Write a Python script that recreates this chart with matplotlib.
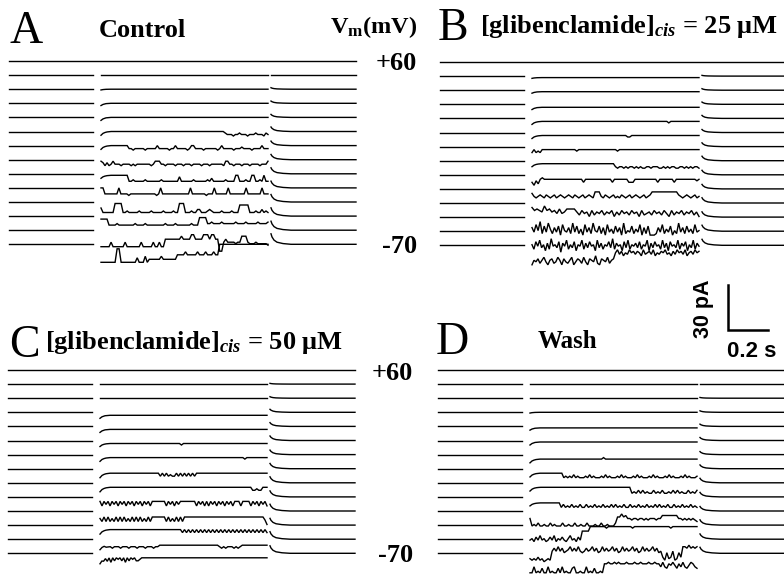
import numpy as np
import matplotlib
matplotlib.use("Agg")
import matplotlib.pyplot as plt

# sweeps: test potentials, top to bottom
voltages = [60, 50, 40, 30, 20, 10, 0, -10, -20, -30, -40, -50, -60, -70]
row_step = 9.4          # pA between stacked sweeps

# sweep timing (s): pre-pulse, test pulse, post-pulse (blanked gaps between)
seg_pre = (0.0, 0.42)
seg_pulse = (0.46, 1.295)
seg_post = (1.31, 1.735)

# capacitive transient shapes
onset_t = [0.0, 0.01, 0.025, 0.05]
onset_f = [1.0, 0.5, 0.15, 0.0]
tail_t = [0.0, 0.005, 0.015, 0.03, 0.06, 0.1]
tail_f = [1.0, 0.7, 0.4, 0.2, 0.07, 0.0]

# pulse current, one char per 10 ms, inward deflection in pA (base 36)
A_pulse = [
    "0", "0", "0", "0", "0",
    ("0000000000000000000000000000000000000000000000000000000000000"
     "1222322122232221222312"),
    ("00000000000000" "22322222322222" "0" "22222322" "0" "2222232" "00"
     "2222322222232" "0" "222223222" "1" "222232222" "0" "222"),
    ("12424313" "3343333434333333343" "111" "3343333433343334333343334333"
     "3334" "11" "3343334333433334333" "1"),
    ("11111111111111" "5545555545555555455555555" "2" "555555455555545" "3"
     "55555545555" "11" "555455" "11" "5545" "1" "55"),
    ("00" "4444444" "0" "44445444444444444454" "0" "44444444444444" "0"
     "44444445444" "0" "444444" "0" "44444444" "0" "4444444" "0" "444"),
    ("47" "77777" "1111" "7767777767777767777767777677" "111" "777677" "55"
     "777" "656" "7777677776777" "22222" "777677" "5767"),
    ("2222" "666656666666656666566666666656666566666665666" "1111"
     "5545555455555545555455555455554"),
    ("bbbbb8bbbbbb8bbbbbbb8bbbbb8bb8bb" "66666666466" "66336666" "3336336"
     "6ee86" "8888988" "4448" "999899999a"),
    ("cccccccc" "33" "cccccccc" "9" "ccc" "8" "c" "aaaaaa8aaaaaaa"
     "777757777757775777577" "0000000000000000000000000"),
]
A_onset = [0, 0, 0.5, 1.5, 2, 2.5, 2.5, 0, 2, 0, 0, 0, 0, 0]
A_tail = [0, 0, 1, 1.5, 2, 3, 3, 3.5, 4, 4.5, 5, 5.5, 6, 7]

B_pulse = [
    "0", "1", "1", "2",
    ("22222222222222222222222222222222222222222222222222222222222222222222"
     "3222222222222222"),
    ("22222222222222222222222222222222222222222222222" "33"
     "2222222222222222222222222222222222"),
    ("4243422" "22222222222222232222222222222222222322222222222222222222"
     "22222222222222222222"),
    ("2222222222222222222222222222222222222222"
     "45445454454545544544455454544554454545445"),
    ("574632" "3333333333333333333" "5" "3333333333333" "5" "3333333" "555"
     "33333333333" "5" "3333333" "5" "333333333343"),
    ("3565456456546545654564565465456" "222" "5645654656456546545654654"
     "2222222222222" "45654565465"),
    ("35456254657476" "4444"
     "68576958675867596857685769587685768579586758675869"),
    ("7a593b6a48b7a6c59a7b4a6b8c5a7b49a6b7c5a8b6a7c4b9a6b8a5c7b6" "cccb"
     "7a5b8a6c9b4a7b6a8b5a9"),
    ("9c7a6b9d8c5a9b7e8a6c9b7d9a6c8b7a9d6b8c9a7b5c8a9d7b6c9a8b7c9a6d8b7a9c"
     "6b8d7a9b6c8a7d9b6c8a"),
    ("dab9ca8bda9cb8ad9bca8db9ac8bd9ab7cd9ab8ca9"
     "5364756354645736546375645365746354637546354"),
]
B_onset = [0, 0.5, 1, 1.5, 2, 2, 0, 2, 0, 0, 0, 0, 0, 0]
B_tail = [0, 0.5, 1, 1.5, 2, 2, 2.5, 3, 3, 3, 3.5, 3.5, 4, 4]

C_pulse = [
    "0", "0", "0", "2", "2",
    ("2222222222222222222222222222222222222222" "3"
     "222222222222222222222222222222222222222222"),
    ("22222222222222222222222222222222222222222222222222222222222222222222"
     "2222" "3" "22222222222"),
    ("333333333333333333333333333333" "535354553535353535"
     "333333333333333333333333333333333333"),
    ("3333333333333333333333333333333333333333333333333333333333333333333"
     "33333333" "55455" "333"),
    ("363536353635363536353635363" "33333" "36353635" "3333333"
     "36353636353635363536" "333" "6" "333" "3635363536"),
    ("574747574747475747474757474" "44444" "4747574747"
     "4444444444444444444444444444444444444444" "69"),
    ("3333333333333333333333333333333333333333"
     "35353535353535353535353535353535353535353535"),
    ("44455565556555655565556555655" "44444444444444444444444444444"
     "56565556565" "4444444444444"),
    ("3" "343536353" "43536353435" "5" "4333333333333333333333333333333333"
     "3333333333333333333333333333333333333"),
]
C_onset = [0, 0, 0, 2, 2, 2, 2.5, 3, 3, 0, 0, 3, 3, 4]
C_tail = [0, 0.5, 1, 2, 2.5, 3, 3, 3.5, 4, 4, 4.5, 4.5, 5, 5]

D_pulse = [
    "0", "0", "0", "0", "1", "1",
    ("3333333333333333333333333333333333333" "2"
     "33333333333333333333333333333333333333333333333"),
    ("33333333333333333"
     "65656465666564656665646566656465666564656665646566656465666564656665"),
    ("33333333333333333333333333333333333333333333333"
     "7675757677576757767575767757675"),
    ("444444444444444"
     "757675767577576757675767575767577576757675767575767577576757675767"),
    ("5" "a9a8aa9aa8a9aaa8aa9aa8aa9aa8aaa9aa8aa9aaa8" "44243"
     "55655655656555655" "33333333" "5565656567"),
    ("a9b8a7a9ba8a7b9a8ab97a9b8a" "4444"
     "111111112111111111111211111111111111111121111111111111"),
    ("dedecedfede"
     "8685869875868589868758698586875869858687586985868758698"
     "ce9dc8ed9c" "55646565"),
    ("dd9dcdadd9dcddad9dcdda9ddcdd9dcdaddcd" "776776767776777677677767767"
     "7969a7868a7969a8679a"),
]
D_onset = [0, 0, 0, 0.5, 1.5, 2, 2.5, 2.5, 2.5, 2, 0, 0, 0, 0]
D_tail = [0, 0, 0.5, 1, 1.5, 2, 2, 2.5, 3, 3, 3, 3.5, 3.5, 4]

W, H = 784, 581
PX_S = 200.0    # page px per second
PX_PA = 1.5     # page px per pA

plt.rcParams['mathtext.fontset'] = 'custom'
plt.rcParams['mathtext.rm'] = 'Liberation Serif:bold'
plt.rcParams['mathtext.it'] = 'Liberation Serif:italic:bold'
plt.rcParams['mathtext.bf'] = 'Liberation Serif:bold'

fig = plt.figure(figsize=(W / 100, H / 100), dpi=100)
fig.patch.set_facecolor('white')


def panel_axes(x0, y0):
    left, right = x0 - 10, x0 + 360
    top, bottom = y0 - 55, y0 + 225
    ax = fig.add_axes([left / W, 1 - bottom / H, (right - left) / W, (bottom - top) / H])
    ax.set_xlim((left - x0) / PX_S, (right - x0) / PX_S)
    ax.set_ylim((y0 - bottom) / PX_PA, (y0 - top) / PX_PA)
    ax.axis('off')
    return ax


def decode(s):
    return np.array([int(c, 36) for c in s], dtype=float)


def draw_panel(ax, pulse, onset, tail):
    kw = dict(color='black', lw=1.0, solid_joinstyle='miter')
    for i, (s, a_on, a_tail) in enumerate(zip(pulse, onset, tail)):
        base = -row_step * i
        if i == 0:
            ax.plot([seg_pre[0], seg_post[1]], [base, base], **kw)
            continue
        ax.plot(seg_pre, [base, base], **kw)
        dev = decode(s)
        if dev.size == 1:
            t = np.append(seg_pulse[0] + np.array(onset_t), seg_pulse[1])
            dev = np.full(t.size, dev[0])
        else:
            t = np.linspace(seg_pulse[0], seg_pulse[1], dev.size)
        on = a_on * np.interp(t - seg_pulse[0], onset_t, onset_f)
        ax.plot(t, base - dev - on, **kw)
        tp = np.append(seg_post[0] + np.array(tail_t), seg_post[1])
        fp = np.append(tail_f, 0.0)
        ax.plot(tp, base + a_tail * fp, **kw)


def put(x, y, s, **kw):
    fig.text(x / W, 1 - y / H, s, **kw)


serif = dict(family='Liberation Serif', color='black')
sans = dict(family='Liberation Sans', color='black', weight='bold')

axA = panel_axes(9, 61)
axB = panel_axes(440, 62)
axC = panel_axes(8, 370)
axD = panel_axes(438, 370)
draw_panel(axA, A_pulse, A_onset, A_tail)
draw_panel(axB, B_pulse, B_onset, B_tail)
draw_panel(axC, C_pulse, C_onset, C_tail)
draw_panel(axD, D_pulse, D_onset, D_tail)

# scale bar: 30 pA, 0.2 s
sb_t, sb_i = (728 - 438) / PX_S, (370 - 330) / PX_PA
axD.plot([sb_t, sb_t, sb_t + 0.2], [sb_i + 30, sb_i, sb_i], color='black', lw=1.8,
         solid_joinstyle='miter', clip_on=False)
put(703, 309, '30 pA', rotation=90, ha='center', va='center', fontsize=15.5, **sans)
put(752, 357, '0.2 s', ha='center', va='baseline', fontsize=16, **sans)

# panel letters and titles
for lx, ly, letter in [(9, 43, 'A'), (438, 40, 'B'), (9, 357, 'C'), (436, 354, 'D')]:
    put(lx, ly, letter, ha='left', va='baseline', fontsize=33, **serif)
put(99, 37, 'Control', ha='left', va='baseline', fontsize=19, weight='bold', **serif)
put(330, 33, r'V$_{\mathrm{m}}$(mV)', ha='left', va='baseline', fontsize=17.5, weight='bold', **serif)
put(480, 33, r'[glibenclamide]$_{cis}$ = 25 μM', ha='left', va='baseline', fontsize=19,
    weight='bold', **serif)
put(45, 349, r'[glibenclamide]$_{cis}$ = 50 μM', ha='left', va='baseline', fontsize=19,
    weight='bold', **serif)
put(538, 348, 'Wash', ha='left', va='baseline', fontsize=18, weight='bold', **serif)

# voltage labels for first and last sweep
for rx, top_y, bot_y in [(417, 70, 253), (413, 380, 562)]:
    put(rx, top_y, '%+d' % voltages[0], ha='right', va='baseline', fontsize=19,
        weight='bold', **serif)
    put(rx, bot_y, '%d' % voltages[-1], ha='right', va='baseline', fontsize=19,
        weight='bold', **serif)

fig.savefig('out.png', dpi=100, facecolor='white')
